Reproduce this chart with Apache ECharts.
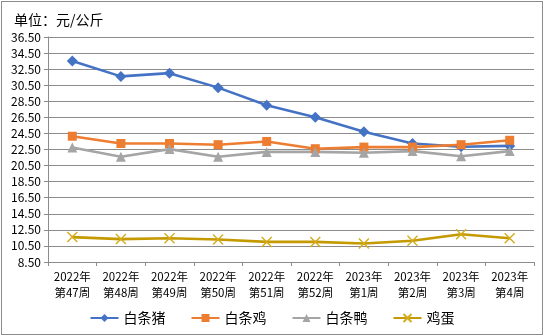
<!DOCTYPE html>
<html>
<head>
<meta charset="utf-8">
<script src="https://cdn.jsdelivr.net/npm/echarts@6/dist/echarts.min.js"></script>
<style>
  html, body { margin: 0; padding: 0; background: #fff; }
  #frame { position: absolute; left: 1px; top: 1px; width: 540px; height: 332px; border: 1px solid #8c8c8c; }
  #chart { position: absolute; left: 0; top: 0; width: 544px; height: 336px; }
</style>
</head>
<body>
<div id="frame"></div>
<div id="chart"></div>
<script>
// Weekly wholesale prices, yuan per kg
const weeks = ['2022年\n第47周', '2022年\n第48周', '2022年\n第49周', '2022年\n第50周', '2022年\n第51周',
               '2022年\n第52周', '2023年\n第1周', '2023年\n第2周', '2023年\n第3周', '2023年\n第4周'];
const pork    = [33.5, 31.6, 32.0, 30.2, 28.0, 26.5, 24.7, 23.25, 22.85, 22.95];
const chicken = [24.15, 23.25, 23.25, 23.1, 23.5, 22.6, 22.8, 22.8, 23.1, 23.65];
const duck    = [22.75, 21.6, 22.55, 21.6, 22.2, 22.2, 22.1, 22.3, 21.65, 22.3];
const egg     = [11.6, 11.35, 11.45, 11.3, 11.0, 11.0, 10.8, 11.15, 11.95, 11.45];

const yMin = 8.5, yMax = 36.5, yStep = 2;
const font = '"Noto Sans CJK SC", "Noto Sans", sans-serif';

const crossPath = 'path://M0,0 L10,10 M10,0 L0,10';

function lineSeries(name, data, color, symbol, size, extra) {
  return Object.assign({
    name: name,
    type: 'line',
    data: data,
    symbol: symbol,
    symbolSize: size,
    lineStyle: { color: color, width: 2.6 },
    itemStyle: { color: color },
    emphasis: { disabled: true }
  }, extra || {});
}

const chart = echarts.init(document.getElementById('chart'), null, { renderer: 'canvas' });
chart.setOption({
  animation: false,
  backgroundColor: 'transparent',
  textStyle: { fontFamily: font },
  title: {
    text: '单位：元/公斤',
    left: 9, top: 8,
    textStyle: { fontSize: 14, fontWeight: 'normal', color: '#000', fontFamily: font }
  },
  grid: { left: 48, right: 10, top: 37, bottom: 74, containLabel: false },
  xAxis: {
    type: 'category',
    data: weeks,
    boundaryGap: true,
    axisLine: { lineStyle: { color: '#8c8c8c', width: 1 } },
    axisTick: { show: true, length: 4, lineStyle: { color: '#8c8c8c' } },
    axisLabel: { color: '#000', fontSize: 11.5, lineHeight: 16, margin: 7, interval: 0, fontFamily: font }
  },
  yAxis: {
    type: 'value',
    min: yMin, max: yMax, interval: yStep,
    axisLine: { show: true, lineStyle: { color: '#8c8c8c', width: 1 } },
    axisTick: { show: true, length: 4, lineStyle: { color: '#8c8c8c' } },
    splitLine: { lineStyle: { color: '#8c8c8c', width: 1 } },
    axisLabel: {
      color: '#000', fontSize: 12, margin: 7, fontFamily: font,
      formatter: v => v.toFixed(2)
    }
  },
  legend: {
    bottom: 6,
    left: 'center',
    itemWidth: 28, itemHeight: 10, itemGap: 25,
    textStyle: { fontSize: 14, color: '#000', fontFamily: font },
    data: ['白条猪', '白条鸡', '白条鸭', '鸡蛋']
  },
  series: [
    lineSeries('白条猪', pork, '#4472C4', 'diamond', 11),
    lineSeries('白条鸡', chicken, '#ED7D31', 'rect', 9),
    lineSeries('白条鸭', duck, '#A5A5A5', 'triangle', 10),
    lineSeries('鸡蛋', egg, '#C49A00', crossPath, 10, {
      itemStyle: { color: 'none', borderColor: '#D4AC1C', borderWidth: 1.4 }
    })
  ]
});
</script>
</body>
</html>
